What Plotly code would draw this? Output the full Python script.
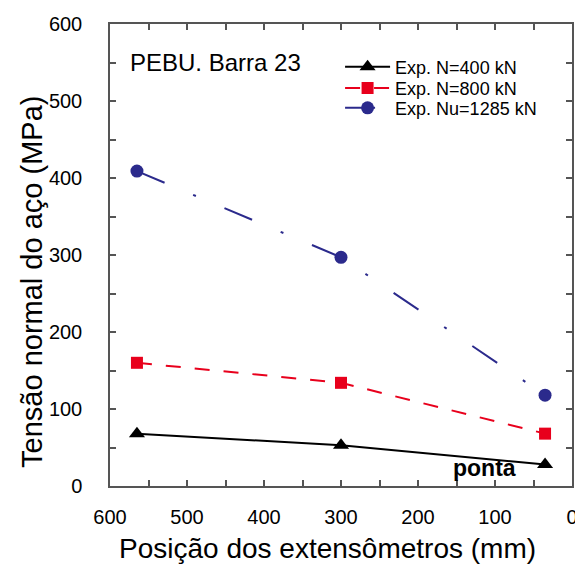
import plotly.graph_objects as go

positions = [565, 300, 35]
n400 = [68, 53, 28]
n800 = [160, 134, 68]
nu1285 = [409, 297, 118]
series_names = ["Exp. N=400 kN", "Exp. N=800 kN", "Exp. Nu=1285 kN"]

FONT = "Arial, Liberation Sans, sans-serif"

fig = go.Figure()
fig.add_trace(go.Scatter(
    x=positions, y=n400, name=series_names[0], mode="lines+markers",
    line=dict(color="black", width=2),
    marker=dict(symbol="triangle-up", size=14, color="black"),
    legend="legend",
))
fig.add_trace(go.Scatter(
    x=positions, y=n800, name=series_names[1], mode="lines+markers",
    line=dict(color="#e8001c", width=2, dash="15px,14px"),
    marker=dict(symbol="square", size=12, color="#e8001c"),
    legend="legend2",
))
fig.add_trace(go.Scatter(
    x=positions, y=nu1285, name=series_names[2], mode="lines+markers",
    line=dict(color="#2b2a8c", width=2, dash="30px,31px,3px,31px"),
    marker=dict(symbol="circle", size=13, color="#2b2a8c"),
    legend="legend3",
))

axis_common = dict(
    showline=True, linecolor="#555", linewidth=1.5, mirror="ticks",
    ticks="inside", ticklen=6, tickcolor="#555", tickwidth=1.5,
    showgrid=False, zeroline=False, automargin=False,
    tickfont=dict(family=FONT, size=20, color="black"),
    minor=dict(ticks="inside", ticklen=6, tickcolor="#555", tickwidth=1.5, dtick=50, showgrid=False),
)

fig.update_xaxes(range=[600, 0], dtick=100, tick0=0, ticklabelstandoff=12, **axis_common)
fig.update_yaxes(range=[0, 600], dtick=100, tick0=0, ticklabelstandoff=22, **axis_common)

# axis titles
fig.add_annotation(x=0.47, y=-0.136, xref="paper", yref="paper", text="Posição dos extensômetros (mm)",
                   showarrow=False, xanchor="center", yanchor="middle",
                   font=dict(family=FONT, size=28, color="black"))
fig.add_annotation(x=-0.169, y=0.4416, xref="paper", yref="paper", text="Tensão normal do aço (MPa)",
                   showarrow=False, xanchor="center", yanchor="middle", textangle=-90,
                   font=dict(family=FONT, size=29, color="black"))

fig.add_annotation(x=0.039, y=0.917, xref="paper", yref="paper", text="PEBU. Barra 23",
                   showarrow=False, xanchor="left", yanchor="middle",
                   font=dict(family=FONT, size=24, color="black"))
fig.add_annotation(x=114, y=23, xref="x", yref="y", text="<b>ponta</b>",
                   showarrow=False, xanchor="center", yanchor="middle",
                   font=dict(family=FONT, size=23, color="black"))

leg_common = dict(x=0.498, xanchor="left", yanchor="middle", bgcolor="rgba(0,0,0,0)",
                  font=dict(family=FONT, size=18, color="black"), itemwidth=45)

fig.update_layout(
    width=575, height=558,
    margin=dict(l=102, r=11, t=16, b=80),
    paper_bgcolor="white", plot_bgcolor="white",
    showlegend=True,
    legend=dict(y=0.907, **leg_common),
    legend2=dict(y=0.861, **leg_common),
    legend3=dict(y=0.818, **leg_common),
    font=dict(family=FONT),
)

fig.write_html("out.html")
